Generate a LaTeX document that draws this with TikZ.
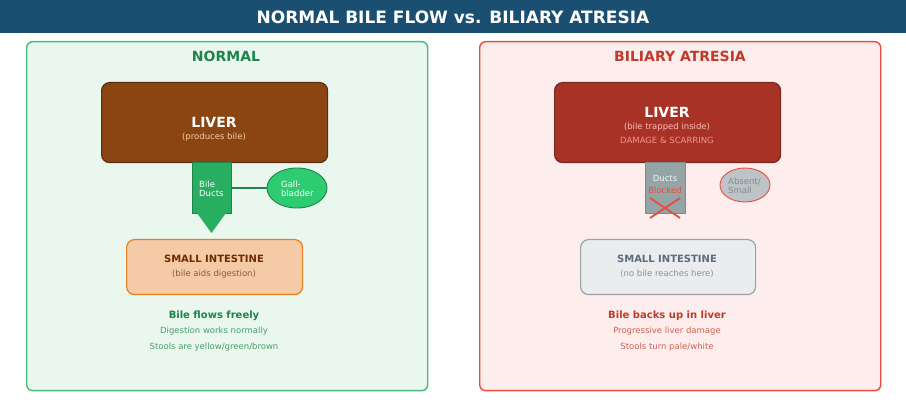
\documentclass[tikz,border=0pt]{standalone}
\usepackage{fontspec}
\setmainfont{DejaVu Sans}
\usetikzlibrary{shapes.geometric}
\definecolor{titlebg}{HTML}{1B4F72}
\definecolor{ngreen}{HTML}{1E8449}
\definecolor{ngreenl}{HTML}{27AE60}
\definecolor{ngreenb}{HTML}{2ECC71}
\definecolor{npanel}{HTML}{E9F7EF}
\definecolor{rpanel}{HTML}{FDEDEC}
\definecolor{rred}{HTML}{C0392B}
\definecolor{rredl}{HTML}{E74C3C}
\definecolor{liverb}{HTML}{8B4513}
\definecolor{liverbd}{HTML}{5B2C0E}
\definecolor{liverr}{HTML}{A93226}
\definecolor{liverrd}{HTML}{78281F}
\definecolor{peach}{HTML}{F5CBA7}
\definecolor{orangeb}{HTML}{E67E22}
\definecolor{browntxt}{HTML}{6E2C00}
\definecolor{browntxtl}{HTML}{875A3C}
\definecolor{grayf}{HTML}{95A5A6}
\definecolor{grayd}{HTML}{7F8C8D}
\definecolor{grayl}{HTML}{BDC3C7}
\definecolor{grayp}{HTML}{EAECEE}
\definecolor{slate}{HTML}{5D6D7E}
\definecolor{slatel}{HTML}{85929E}
\definecolor{pinktxt}{HTML}{F1948A}
\definecolor{creamtxt}{HTML}{F5CBA7}
\tikzset{
  panelbox/.style={draw, line width=1.4pt, rounded corners=6pt, anchor=north west, inner sep=0pt},
  organ/.style={draw, line width=1.2pt, rounded corners=8pt, anchor=north west, inner sep=0pt},
  duct/.style={draw, line width=0.9pt, anchor=north west, inner sep=0pt},
  txt/.style={inner sep=0pt, align=center},
  fs/.style={font=\fontsize{#1}{#1}\selectfont},
  fsb/.style={font=\fontsize{#1}{#1}\selectfont\bfseries},
}
\begin{document}
\begin{tikzpicture}[x=1pt,y=-1pt]
\useasboundingbox (0,0) rectangle (906,406);
\fill[white] (0,0) rectangle (906,406);
% title bar
\node[fill=titlebg, anchor=north west, minimum width=906pt, minimum height=33pt, inner sep=0pt] (bar) at (0,0) {};
\node[txt, fsb=17, text=white] (title) at (453,17) {NORMAL BILE FLOW vs. BILIARY ATRESIA};

% ---------------- NORMAL panel
\node[panelbox, draw=ngreenl!85!white, fill=npanel, minimum width=401pt, minimum height=349pt] (pl) at (26,41) {};
\node[txt, fsb=14, text=ngreen] (ntitle) at (226,56) {NORMAL};
\node[organ, draw=liverbd, fill=liverb, minimum width=226pt, minimum height=80pt] (liverL) at (101,82) {};
\node[txt, fsb=14, text=white] (liverLt) at (214,122) {LIVER};
\node[txt, fs=8.5, text=creamtxt] (liverLs) at (214,137) {(produces bile)};
\node[duct, draw=ngreen, fill=ngreenl, minimum width=39pt, minimum height=51pt] (ductL) at (192,162) {};
\node[txt, fs=8.5, text=white, align=left, anchor=west] (ductLt) at (199,188.5) {Bile\\[0.5pt]Ducts};
\fill[ngreenl] (197,213) -- (226,213) -- (211.5,233) -- cycle;
\node[ellipse, draw=ngreen, line width=0.9pt, fill=ngreenb, minimum width=60pt, minimum height=40pt, inner sep=0pt] (gallL) at (297,188) {};
\node[txt, fs=8.5, text=white, align=left, anchor=west] (gallLt) at (281,188.5) {Gall-\\[0.5pt]bladder};
\draw[ngreen, line width=1.2pt] (ductL.east |- gallL.west) -- (gallL.west);
\node[organ, draw=orangeb, fill=peach, minimum width=176pt, minimum height=55pt] (intL) at (126,239) {};
\node[txt, fsb=10, text=browntxt] (intLt) at (214,259) {SMALL INTESTINE};
\node[txt, fs=8.5, text=browntxtl] (intLs) at (214,274) {(bile aids digestion)};
\node[txt, fsb=10, text=ngreen] (n1) at (214,316) {Bile flows freely};
\node[txt, fs=8.5, text=ngreen!80!white] (n2) at (214,331) {Digestion works normally};
\node[txt, fs=8.5, text=ngreen!80!white] (n3) at (214,347) {Stools are yellow/green/brown};

% ---------------- ATRESIA panel
\node[panelbox, draw=rredl, fill=rpanel, minimum width=401pt, minimum height=349pt] (pr) at (479,41) {};
\node[txt, fsb=14, text=rred] (rtitle) at (680,56) {BILIARY ATRESIA};
\node[organ, draw=liverrd, fill=liverr, minimum width=226pt, minimum height=80pt] (liverR) at (554,82) {};
\node[txt, fsb=14, text=white] (liverRt) at (667,112) {LIVER};
\node[txt, fs=8.5, text=pinktxt!60!white] (liverRs) at (667,127) {(bile trapped inside)};
\node[txt, fs=8.5, text=pinktxt] (liverRd) at (667,140) {DAMAGE \& SCARRING};
\node[duct, draw=grayd, fill=grayf, minimum width=40pt, minimum height=51pt] (ductR) at (645,162) {};
\node[txt, fs=8.5, text=white!90!grayf] (ductRt) at (665,178) {Ducts};
\node[txt, fs=8.5, text=rredl] (ductRb) at (665,190) {Blocked};
\coordinate (x1) at (650,198);
\coordinate (x2) at (680,218);
\coordinate (x3) at (680,198);
\coordinate (x4) at (650,218);
\draw[rredl, line width=1.8pt] (x1) -- (x2);
\draw[rredl, line width=1.8pt] (x3) -- (x4);
\node[ellipse, draw=rredl, line width=0.9pt, fill=grayl, minimum width=50pt, minimum height=34pt, inner sep=0pt] (gallR) at (745,185) {};
\node[txt, fs=8.5, text=grayd, align=left, anchor=west] (gallRt) at (728,185.5) {Absent/\\[0.5pt]Small};
\node[organ, draw=grayf, fill=grayp, minimum width=175pt, minimum height=55pt] (intR) at (580,239) {};
\node[txt, fsb=10, text=slate] (intRt) at (667,259) {SMALL INTESTINE};
\node[txt, fs=8.5, text=slatel] (intRs) at (667,274) {(no bile reaches here)};
\node[txt, fsb=10, text=rred] (r1) at (667,316) {Bile backs up in liver};
\node[txt, fs=8.5, text=rred!80!white] (r2) at (667,331) {Progressive liver damage};
\node[txt, fs=8.5, text=rred!80!white] (r3) at (667,347) {Stools turn pale/white};
\end{tikzpicture}
\end{document}
